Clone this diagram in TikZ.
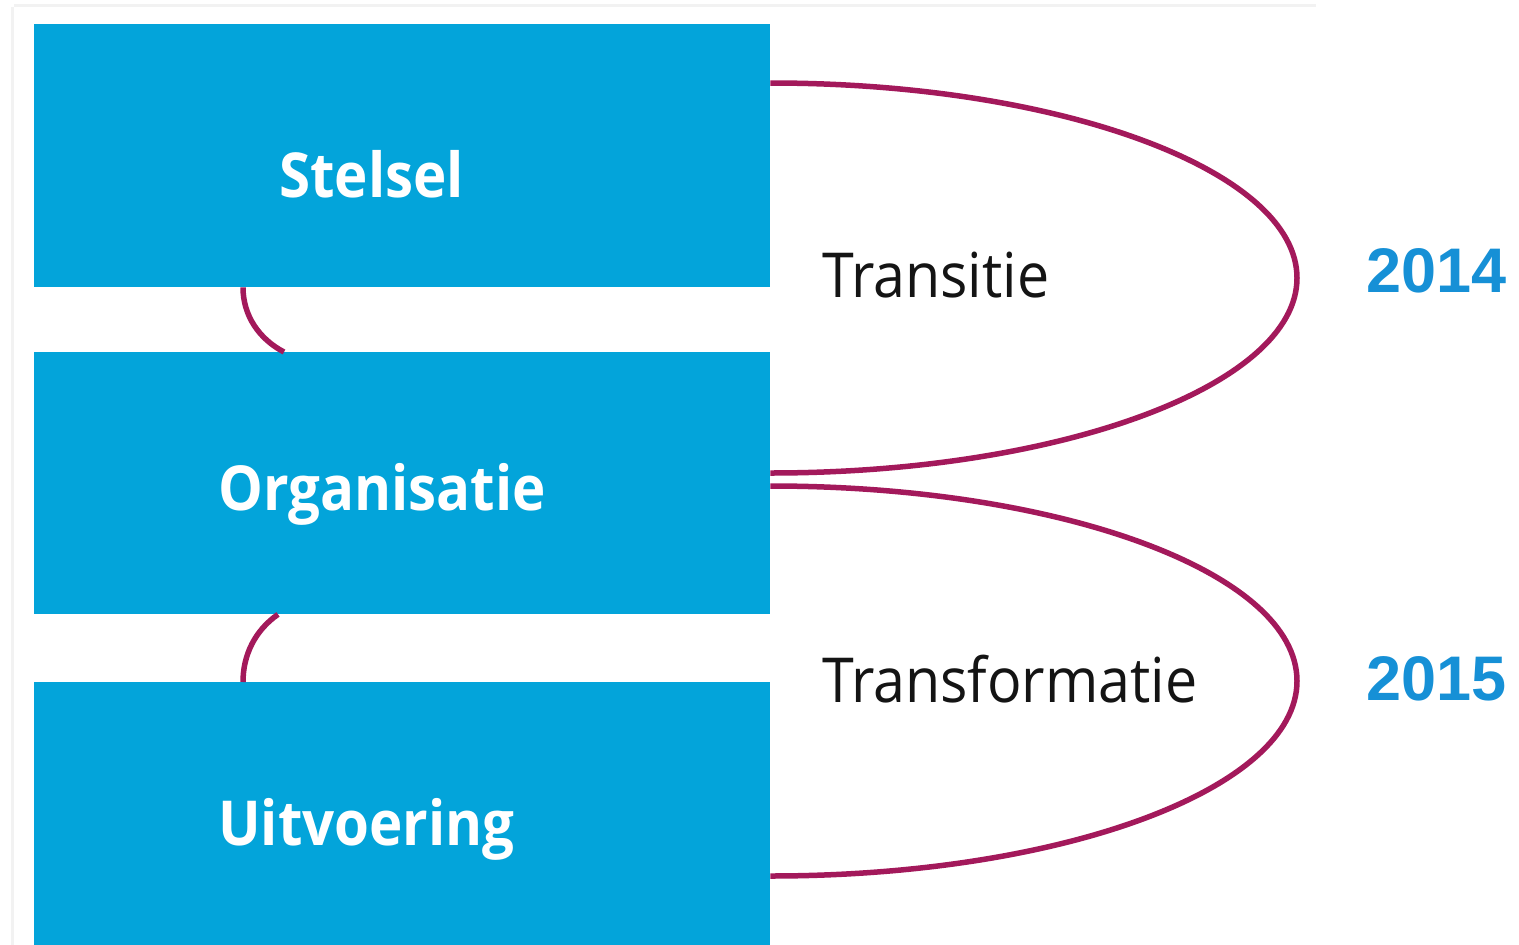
\documentclass[tikz,border=0pt]{standalone}
\usepackage{fontspec}
\newfontfamily\osansb{Open Sans}[FakeStretch=0.91]
\newfontfamily\osansr{Open Sans}[FakeStretch=0.925]
\newfontfamily\lsans{Liberation Sans}
\usetikzlibrary{calc}
\definecolor{boxblue}{RGB}{3,164,218}
\definecolor{linkred}{RGB}{163,25,91}
\definecolor{yearblue}{RGB}{22,144,214}
\definecolor{framegray}{RGB}{242,242,242}
\definecolor{textdark}{RGB}{20,20,20}
\tikzset{
  blockbox/.style={fill=boxblue, draw=none, inner sep=0pt, anchor=north west, minimum width=736pt},
  blocklabel/.style={anchor=base west, inner sep=0pt, text=white, font=\osansb\bfseries\fontsize{62}{62}\selectfont},
  phaselabel/.style={anchor=base west, inner sep=0pt, text=textdark, font=\osansr\fontsize{62}{62}\selectfont},
  yearlabel/.style={anchor=base west, inner sep=0pt, text=yearblue, font=\lsans\bfseries\fontsize{63}{63}\selectfont},
  link/.style={draw=linkred, line width=5.5pt},
  frameline/.style={draw=framegray, line width=3pt}
}
\begin{document}
\begin{tikzpicture}[x=1pt,y=-1pt]
\useasboundingbox (0,0) rectangle (1519,945);
% faint frame
\draw[frameline] (14,5.5) -- (1316,5.5);
\draw[frameline] (12.5,7) -- (12.5,945);
% boxes
\node[blockbox, minimum height=263pt] (s) at (34,24) {};
\node[blockbox, minimum height=262pt] (o) at (34,352) {};
\node[blockbox, minimum height=263pt] (u) at (34,682) {};
% labels in boxes
\node[blocklabel] (sl) at (279,197) {Stelsel};
\node[blocklabel] (ol) at (218,510) {Organisatie};
\node[blocklabel] (ul) at (218,845) {Uitvoering};
% connection points
\coordinate (a1) at ($(s.north east)+(0,59)$);
\coordinate (a2) at ($(o.north east)+(0,121)$);
\coordinate (b1) at ($(o.north east)+(0,134)$);
\coordinate (b2) at ($(u.north east)+(0,194)$);
\coordinate (r1) at (1297,278);
\coordinate (r2) at (1297,681);
% big arcs
\draw[link] (a1) .. controls +(291,0) and +(0,-107) .. (r1)
                 .. controls +(0,107) and +(291,0) .. (a2);
\draw[link] (b1) .. controls +(291,0) and +(0,-108) .. (r2)
                 .. controls +(0,108) and +(291,0) .. (b2);
% small links between boxes
\draw[link] ($(s.south west)+(209,0)$) .. controls +(0,28) and +(-25,-13) .. ($(o.north west)+(250,0)$);
\draw[link] ($(o.south west)+(244,0)$) .. controls +(-23,16) and +(0,-27) .. ($(u.north west)+(209,0)$);
% phase labels
\node[phaselabel] (tr) at (822,297) {Transitie};
\node[phaselabel] (tf) at (822,702) {Transformatie};
% years
\node[yearlabel] (y1) at (1366,292) {2014};
\node[yearlabel] (y2) at (1366,700) {2015};
\end{tikzpicture}
\end{document}
